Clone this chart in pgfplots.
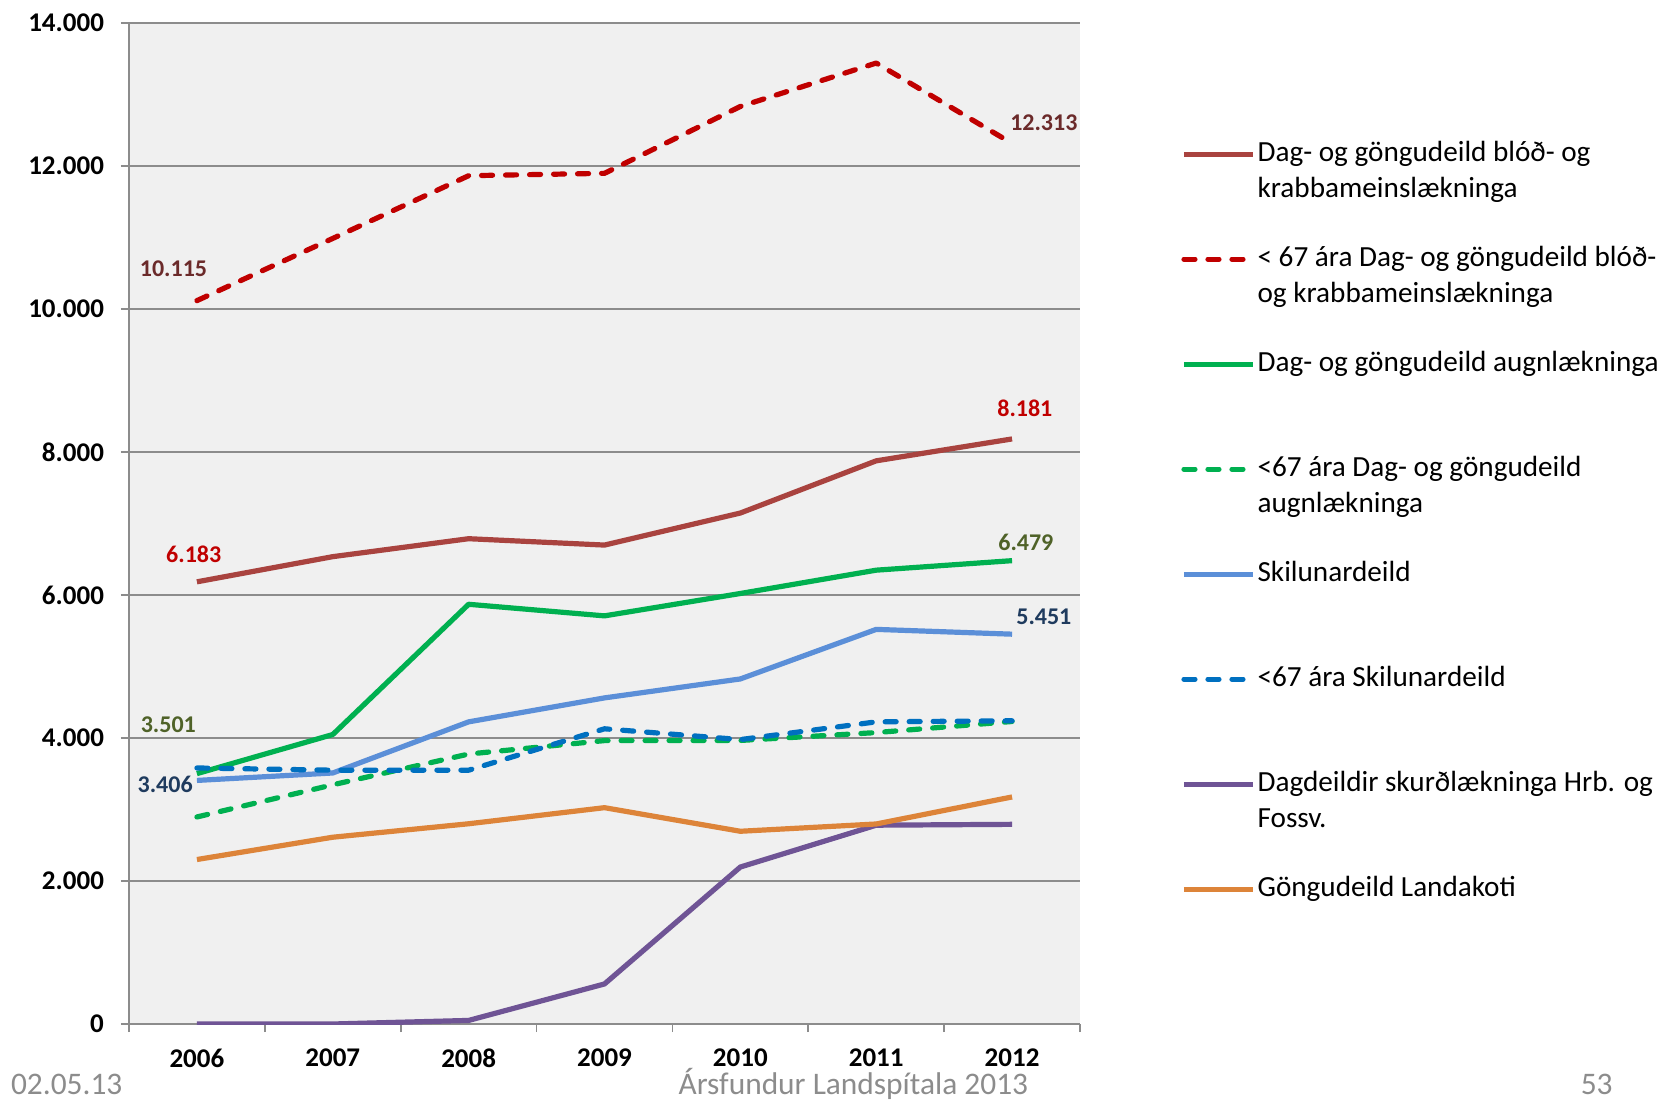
\documentclass[border=0pt]{standalone}
\usepackage{pgfplots}
\pgfplotsset{compat=1.18}
\usepackage{pgfplotstable}
\usepackage{fontspec}
\setmainfont{Carlito}

\definecolor{cDagBlod}{HTML}{A9433F}
\definecolor{cDagBlodU}{HTML}{C00000}
\definecolor{cAugn}{HTML}{00B050}
\definecolor{cSkil}{HTML}{5B8FD8}
\definecolor{cSkilU}{HTML}{0070C0}
\definecolor{cSkurd}{HTML}{6F5495}
\definecolor{cLanda}{HTML}{DD8439}
\definecolor{plotbg}{HTML}{F0F0F0}
\definecolor{gridgray}{HTML}{8C8C8C}
\definecolor{footgray}{HTML}{8C8C8C}
\definecolor{labBrown}{HTML}{6B2A2A}
\definecolor{labRed}{HTML}{C00000}
\definecolor{labOlive}{HTML}{4F6228}
\definecolor{labNavy}{HTML}{1F3B5E}

\newcommand{\tvaer}[2]{\begin{tabular}[t]{@{}l@{}}#1\\#2\end{tabular}}

% ar  dagblod  dagblodU  augn  augnU  skil  skilU  skurd  landa
\pgfplotstableread{
x dagblod dagblodU augn augnU skil skilU skurd landa
0 6183 10115 3501 2895 3406 3580 0 2300
1 6535 10985 4048 3345 3510 3549 0 2612
2 6786 11862 5869 3775 4225 3549 50 2800
3 6697 11895 5707 3963 4560 4128 560 3025
4 7145 12830 6020 3965 4825 3977 2195 2695
5 7875 13437 6346 4075 5518 4225 2780 2797
6 8181 12313 6479 4230 5451 4240 2792 3175
}\gogn

\begin{document}
\begin{tikzpicture}
\begin{axis}[
    at={(64.5pt,38pt)}, anchor=south west,
    scale only axis,
    width=475.5pt, height=500.6pt,
    xmin=-0.5, xmax=6.5,
    ymin=0, ymax=14000,
    axis x line*=bottom, axis y line*=left,
    axis line style={draw=gridgray, line width=0.9pt},
    axis background/.style={fill=plotbg},
    xtick={0,...,6},
    xticklabels={2006,2007,2008,2009,2010,2011,2012},
    major x tick style={draw=none},
    minor xtick={-0.5,0.5,...,6.5},
    ytick={0,2000,...,14000},
    ymajorgrids,
    grid style={draw=gridgray, line width=0.8pt},
    tick style={draw=gridgray, line width=0.9pt},
    tick align=outside,
    major tick length=4pt, minor tick length=4pt,
    scaled y ticks=false,
    /pgf/number format/.cd, 1000 sep={.}, assume math mode=true,
    /pgfplots/.cd,
    tick label style={font=\bfseries\fontsize{13.5}{16}\selectfont},
    yticklabel style={xshift=-5pt},
    xticklabel style={yshift=-5pt},
    every axis plot/.append style={line width=2.6pt, line join=round},
    legend cell align=left,
    legend image code/.code={\draw[#1, line width=2.6pt] (0pt,3.4pt) -- (34.5pt,3.4pt);},
    legend style={at={(1.1062,0.9148)}, anchor=north west, draw=none, fill=none,
        inner sep=0pt, row sep=0pt, column sep=1pt,
        nodes={inner sep=0pt, text height=26.25pt, text depth=26.25pt,
               font=\fontsize{14.6}{18.2}\selectfont}},
]
\addplot[cDagBlod] table[x=x, y=dagblod] {\gogn};
\addlegendentry{\tvaer{Dag- og göngudeild blóð- og}{krabbameinslækninga}}
\addplot[cDagBlodU, line cap=round, dash pattern=on 5.5pt off 6.5pt] table[x=x, y=dagblodU] {\gogn};
\addlegendentry{\tvaer{< 67 ára Dag- og göngudeild blóð-}{og krabbameinslækninga}}
\addplot[cAugn] table[x=x, y=augn] {\gogn};
\addlegendentry{Dag- og göngudeild augnlækninga}
\addplot[cAugn, line cap=round, dash pattern=on 5.5pt off 6.5pt] table[x=x, y=augnU] {\gogn};
\addlegendentry{\tvaer{<67 ára Dag- og göngudeild}{augnlækninga}}
\addplot[cSkil] table[x=x, y=skil] {\gogn};
\addlegendentry{Skilunardeild}
\addplot[cSkilU, line cap=round, dash pattern=on 5.5pt off 6.5pt] table[x=x, y=skilU] {\gogn};
\addlegendentry{<67 ára Skilunardeild}
\addplot[cSkurd] table[x=x, y=skurd] {\gogn};
\addlegendentry{\tvaer{Dagdeildir skurðlækninga Hrb. og}{Fossv.}}
\addplot[cLanda] table[x=x, y=landa] {\gogn};
\addlegendentry{Göngudeild Landakoti}

% gildismerki
\begin{scope}[every node/.style={font=\bfseries\fontsize{12}{14}\selectfont}]
\node[text=labBrown] at (axis cs:0,10115) [xshift=-11.7pt, yshift=15.9pt] {10.115};
\node[text=labBrown] at (axis cs:6,12313) [xshift=15.9pt, yshift=10.6pt] {12.313};
\node[text=labRed] at (axis cs:6,8181) [xshift=6.4pt, yshift=15.4pt] {8.181};
\node[text=labRed] at (axis cs:0,6183) [xshift=-1.6pt, yshift=13.8pt] {6.183};
\node[text=labOlive] at (axis cs:6,6479) [xshift=6.9pt, yshift=9pt] {6.479};
\node[text=labNavy] at (axis cs:6,5451) [xshift=15.9pt, yshift=8.5pt] {5.451};
\node[text=labOlive] at (axis cs:0,3501) [xshift=-14.3pt, yshift=24.4pt] {3.501};
\node[text=labNavy] at (axis cs:0,3406) [xshift=-15.9pt, yshift=-2.1pt] {3.406};
\end{scope}
\end{axis}

% fótur glærunnar
\begin{scope}[every node/.style={text=footgray, font=\fontsize{15.7}{18}\selectfont, inner sep=0pt}]
\node[anchor=west] at (5.3pt,8pt) {02.05.13};
\node at (426.7pt,8pt) {Ársfundur Landspítala 2013};
\node[anchor=east] at (806.5pt,8pt) {53};
\end{scope}

\pgfresetboundingbox
\path (0,0) rectangle (830.5pt,550pt);
\end{tikzpicture}
\end{document}
